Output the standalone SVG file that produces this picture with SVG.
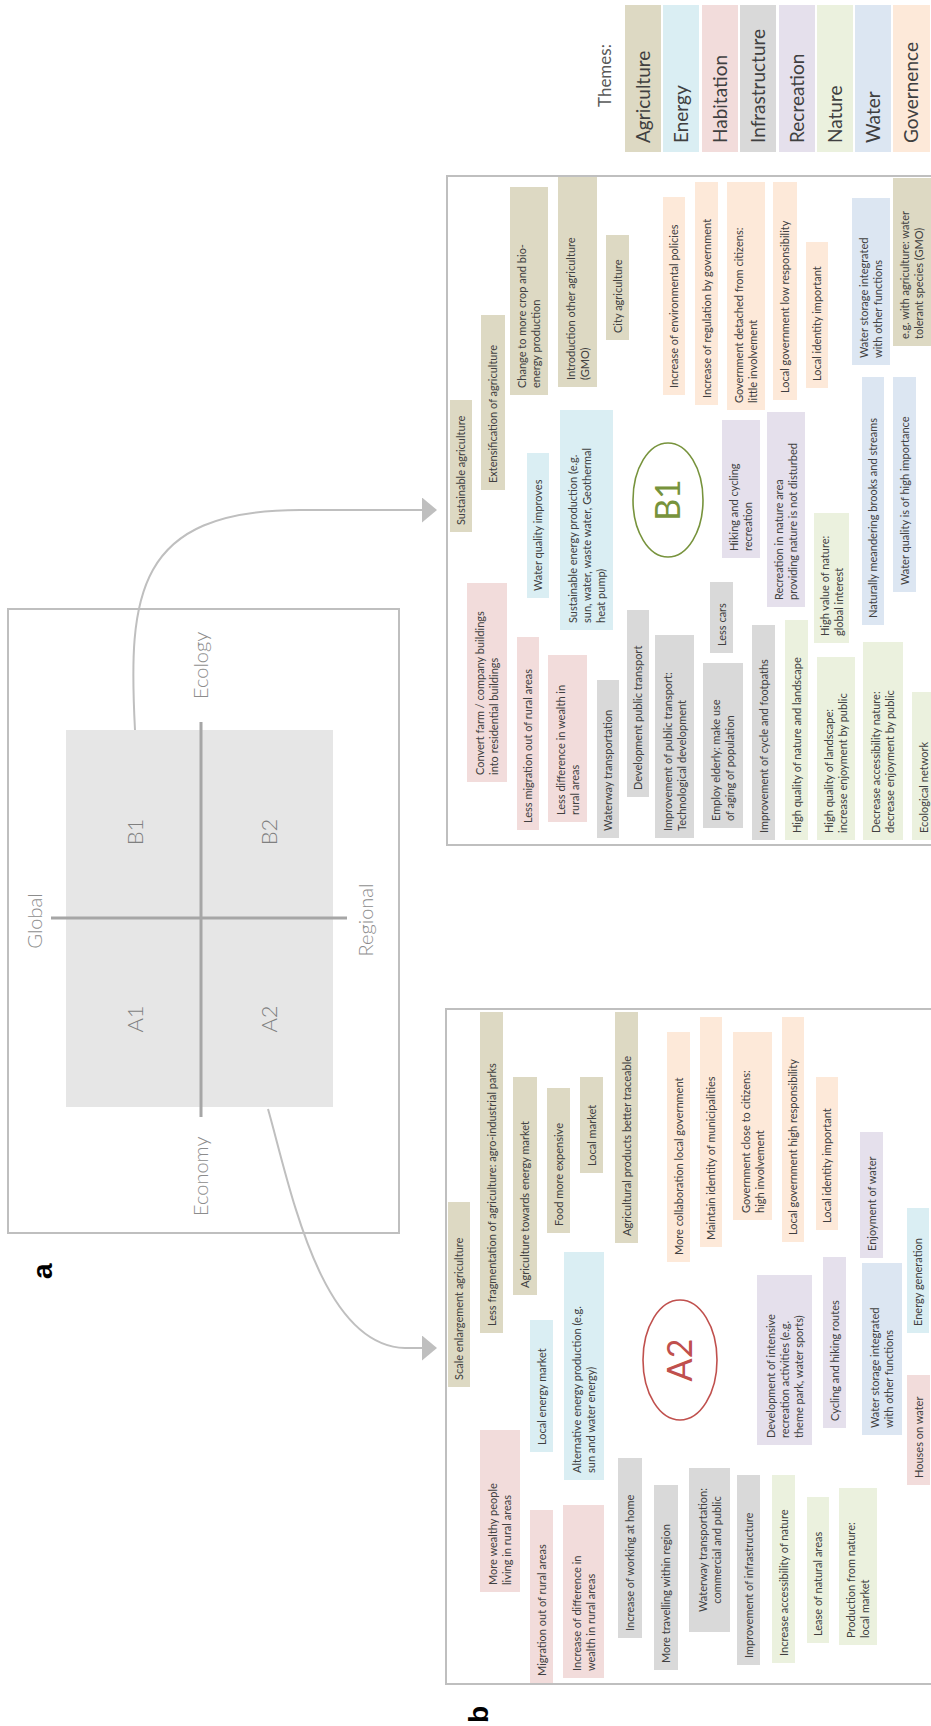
<svg xmlns="http://www.w3.org/2000/svg" width="931" height="1726" viewBox="0 0 931 1726">
<style>
.t{font-family:Lato,'Open Sans','Liberation Sans',sans-serif;font-size:11px;fill:#404040}
.lg{font-family:Lato,'Open Sans','Liberation Sans',sans-serif;font-size:19px;fill:#404040}
.ax{font-family:Lato,'Open Sans','Liberation Sans',sans-serif;font-weight:300;font-size:20px;fill:#8c8c8c}
.q{font-family:Lato,'Open Sans','Liberation Sans',sans-serif;font-weight:300;font-size:22px;fill:#7f7f7f;text-anchor:middle}
.pl{font-family:'Liberation Sans',Arial,sans-serif;font-weight:bold;font-size:28px;fill:#000}
.agr{fill:#ddd9c3}.ene{fill:#daeef3}.hab{fill:#f2dcdb}.inf{fill:#d9d9d9}.rec{fill:#e5e0ec}.nat{fill:#ebf1de}.wat{fill:#dce6f2}.gov{fill:#fde9d9}
.frame{fill:none;stroke:#bfbfbf;stroke-width:2}
.conn{fill:none;stroke:#bfbfbf;stroke-width:2}
</style>
<defs>
<marker id="ah" markerUnits="userSpaceOnUse" markerWidth="16" markerHeight="26" refX="0" refY="12.5" orient="auto">
<path d="M0,0 L15,12.5 L0,25 z" fill="#bfbfbf"/>
</marker>
</defs>
<rect x="0" y="0" width="931" height="1726" fill="#fff"/>
<g transform="translate(0,1726) rotate(-90)">

<!-- panel a -->
<g id="panel-a">
<text class="pl" x="447" y="52">a</text>
<rect class="frame" x="493" y="8" width="624" height="391"/>
<rect x="619" y="66" width="377" height="267" fill="#e6e6e6"/>
<line x1="609" y1="201" x2="1004" y2="201" stroke="#a6a6a6" stroke-width="3"/>
<line x1="808" y1="51" x2="808" y2="347" stroke="#a6a6a6" stroke-width="3"/>
<text class="ax" x="805" y="42" text-anchor="middle">Global</text>
<text class="ax" x="806" y="373" text-anchor="middle">Regional</text>
<text class="ax" x="1027" y="208">Ecology</text>
<text class="ax" x="510" y="208">Economy</text>
</g>
<g id="quad-a1"><text class="q" x="707" y="143">A1</text></g>
<g id="quad-b1"><text class="q" x="894" y="143">B1</text></g>
<g id="quad-a2"><text class="q" x="707" y="277">A2</text></g>
<g id="quad-b2"><text class="q" x="894" y="277">B2</text></g>

<!-- legend -->
<g id="legend">
<text x="1619" y="611" style="font-family:Lato,'Open Sans',sans-serif;font-size:17px;fill:#595959">Themes:</text>
<g id="leg-agriculture"><rect class="agr" x="1574" y="625" width="147" height="36"/><text class="lg" x="1583" y="650">Agriculture</text></g>
<g id="leg-energy"><rect class="ene" x="1574" y="663" width="147" height="36"/><text class="lg" x="1583" y="688">Energy</text></g>
<g id="leg-habitation"><rect class="hab" x="1574" y="702" width="147" height="36"/><text class="lg" x="1583" y="727">Habitation</text></g>
<g id="leg-infrastructure"><rect class="inf" x="1574" y="740" width="147" height="36"/><text class="lg" x="1583" y="765">Infrastructure</text></g>
<g id="leg-recreation"><rect class="rec" x="1574" y="779" width="147" height="36"/><text class="lg" x="1583" y="804">Recreation</text></g>
<g id="leg-nature"><rect class="nat" x="1574" y="817" width="147" height="36"/><text class="lg" x="1583" y="842">Nature</text></g>
<g id="leg-water"><rect class="wat" x="1574" y="855" width="147" height="36"/><text class="lg" x="1583" y="880">Water</text></g>
<g id="leg-governence"><rect class="gov" x="1574" y="893" width="147" height="37"/><text class="lg" x="1583" y="918">Governence</text></g>
</g>

<!-- panel b frames -->
<g id="panel-b">
<text class="pl" x="3" y="488">b</text>
<rect class="frame" x="42" y="446" width="675" height="520"/>
<rect class="frame" x="881" y="447" width="669" height="520"/>
</g>

<!-- connectors -->
<g id="connectors">
<path class="conn" d="M996,135 C1130,128 1216,135 1216,300 L1216,422" marker-end="url(#ah)"/>
<path class="conn" d="M617,268 C540,290 380,320 378,405 L378,422" marker-end="url(#ah)"/>
</g>

<!-- B1 scenario -->
<g id="b1-label"><ellipse cx="1226" cy="668" rx="57" ry="35" fill="none" stroke="#77933c" stroke-width="1.6"/><text x="1226" y="680" text-anchor="middle" style="font-family:Lato,'Open Sans',sans-serif;font-size:34px;fill:#77933c">B1</text></g>
<g id="b1-1"><rect class="agr" x="1194" y="450" width="132" height="22"/><text class="t" x="1201" y="465">Sustainable agriculture</text></g>
<g id="b1-2"><rect class="agr" x="1236" y="481" width="175" height="24"/><text class="t" x="1243" y="497">Extensification of agriculture</text></g>
<g id="b1-3"><rect class="agr" x="1331" y="510" width="208" height="38"/><text class="t" x="1338" y="526">Change to more crop and bio-</text><text class="t" x="1338" y="540">energy production</text></g>
<g id="b1-4"><rect class="agr" x="1339" y="558" width="210" height="39"/><text class="t" x="1346" y="574.5">Introduction other agriculture</text><text class="t" x="1346" y="588.5">(GMO)</text></g>
<g id="b1-5"><rect class="agr" x="1386" y="606" width="105" height="23"/><text class="t" x="1393" y="621.5">City agriculture</text></g>
<g id="b1-6"><rect class="gov" x="1331" y="663" width="198" height="22"/><text class="t" x="1338" y="678">Increase of environmental policies</text></g>
<g id="b1-7"><rect class="gov" x="1321" y="695" width="223" height="23"/><text class="t" x="1328" y="710.5">Increase of regulation by government</text></g>
<g id="b1-8"><rect class="gov" x="1316" y="727" width="228" height="38"/><text class="t" x="1323" y="743">Government detached from citizens:</text><text class="t" x="1323" y="757">little involvement</text></g>
<g id="b1-9"><rect class="gov" x="1326" y="773" width="218" height="24"/><text class="t" x="1333" y="789">Local government low responsibility</text></g>
<g id="b1-10"><rect class="gov" x="1338" y="806" width="146" height="22"/><text class="t" x="1345" y="821">Local identity important</text></g>
<g id="b1-11"><rect class="wat" x="1361" y="852" width="167" height="38"/><text class="t" x="1368" y="868">Water storage integrated</text><text class="t" x="1368" y="882">with other functions</text></g>
<g id="b1-12"><rect class="agr" x="1380" y="893" width="168" height="38"/><text class="t" x="1387" y="909">e.g. with agriculture: water</text><text class="t" x="1387" y="923">tolerant species (GMO)</text></g>
<g id="b1-13"><rect class="ene" x="1128" y="527" width="145" height="22"/><text class="t" x="1135" y="542">Water quality improves</text></g>
<g id="b1-14"><rect class="ene" x="1096" y="560" width="220" height="53"/><text class="t" x="1103" y="576.5">Sustainable energy production (e.g.</text><text class="t" x="1103" y="590.5">sun, water, waste water, Geothermal</text><text class="t" x="1103" y="604.5">heat pump)</text></g>
<g id="b1-15"><rect class="rec" x="1168" y="722" width="138" height="38"/><text class="t" x="1175" y="738">Hiking and cycling</text><text class="t" x="1175" y="752">recreation</text></g>
<g id="b1-16"><rect class="rec" x="1119" y="767" width="195" height="38"/><text class="t" x="1126" y="783">Recreation in nature area</text><text class="t" x="1126" y="797">providing nature is not disturbed</text></g>
<g id="b1-17"><rect class="wat" x="1101" y="862" width="248" height="22"/><text class="t" x="1108" y="877">Naturally meandering brooks and streams</text></g>
<g id="b1-18"><rect class="wat" x="1134" y="893" width="215" height="23"/><text class="t" x="1141" y="908.5">Water quality is of high importance</text></g>
<g id="b1-19"><rect class="hab" x="944" y="467" width="199" height="40"/><text class="t" x="951" y="484">Convert farm / company buildings</text><text class="t" x="951" y="498">into residential buildings</text></g>
<g id="b1-20"><rect class="hab" x="896" y="517" width="193" height="22"/><text class="t" x="903" y="532">Less migration out of rural areas</text></g>
<g id="b1-21"><rect class="hab" x="904" y="548" width="167" height="39"/><text class="t" x="911" y="564.5">Less difference in wealth in</text><text class="t" x="911" y="578.5">rural areas</text></g>
<g id="b1-22"><rect class="inf" x="888" y="597" width="158" height="22"/><text class="t" x="895" y="612">Waterway transportation</text></g>
<g id="b1-23"><rect class="inf" x="929" y="627" width="187" height="22"/><text class="t" x="936" y="642">Development public transport</text></g>
<g id="b1-24"><rect class="inf" x="888" y="655" width="203" height="39"/><text class="t" x="895" y="671.5">Improvement of public transport:</text><text class="t" x="895" y="685.5">Technological development</text></g>
<g id="b1-25"><rect class="inf" x="1073" y="710" width="71" height="23"/><text class="t" x="1080" y="725.5">Less cars</text></g>
<g id="b1-26"><rect class="inf" x="898" y="703" width="165" height="40"/><text class="t" x="905" y="720">Employ elderly: make use</text><text class="t" x="905" y="734">of aging of population</text></g>
<g id="b1-27"><rect class="inf" x="886" y="752" width="215" height="23"/><text class="t" x="893" y="767.5">Improvement of cycle and footpaths</text></g>
<g id="b1-28"><rect class="nat" x="886" y="785" width="220" height="23"/><text class="t" x="893" y="800.5">High quality of nature and landscape</text></g>
<g id="b1-29"><rect class="nat" x="1083" y="814" width="130" height="35"/><text class="t" x="1090" y="828.5">High value of nature:</text><text class="t" x="1090" y="842.5">global interest</text></g>
<g id="b1-30"><rect class="nat" x="886" y="817" width="183" height="38"/><text class="t" x="893" y="833">High quality of landscape:</text><text class="t" x="893" y="847">increase enjoyment by public</text></g>
<g id="b1-31"><rect class="nat" x="886" y="863" width="198" height="40"/><text class="t" x="893" y="880">Decrease accessibility nature:</text><text class="t" x="893" y="894">decrease enjoyment by public</text></g>
<g id="b1-32"><rect class="nat" x="886" y="912" width="148" height="23"/><text class="t" x="893" y="927.5">Ecological network</text></g>

<!-- A2 scenario -->
<g id="a2-label"><ellipse cx="366" cy="680" rx="60" ry="37" fill="none" stroke="#c0504d" stroke-width="1.6"/><text x="366" y="692" text-anchor="middle" style="font-family:Lato,'Open Sans',sans-serif;font-size:34px;fill:#c0504d">A2</text></g>
<g id="a2-1"><rect class="agr" x="339" y="448" width="185" height="22"/><text class="t" x="346" y="463">Scale enlargement agriculture</text></g>
<g id="a2-2"><rect class="agr" x="393" y="480" width="321" height="23"/><text class="t" x="400" y="495.5">Less fragmentation of agriculture: agro-industrial parks</text></g>
<g id="a2-3"><rect class="agr" x="431" y="513" width="218" height="24"/><text class="t" x="438" y="529">Agriculture towards energy market</text></g>
<g id="a2-4"><rect class="agr" x="493" y="547" width="145" height="23"/><text class="t" x="500" y="562.5">Food more expensive</text></g>
<g id="a2-5"><rect class="agr" x="553" y="580" width="96" height="23"/><text class="t" x="560" y="595.5">Local market</text></g>
<g id="a2-6"><rect class="agr" x="483" y="615" width="231" height="23"/><text class="t" x="490" y="630.5">Agricultural products better traceable</text></g>
<g id="a2-7"><rect class="gov" x="464" y="667" width="230" height="23"/><text class="t" x="471" y="682.5">More collaboration local government</text></g>
<g id="a2-8"><rect class="gov" x="479" y="700" width="230" height="22"/><text class="t" x="486" y="715">Maintain identity of municipalities</text></g>
<g id="a2-9"><rect class="gov" x="506" y="733" width="188" height="39"/><text class="t" x="513" y="749.5">Government close to citizens:</text><text class="t" x="513" y="763.5">high involvement</text></g>
<g id="a2-10"><rect class="gov" x="484" y="782" width="225" height="22"/><text class="t" x="491" y="797">Local government high responsibility</text></g>
<g id="a2-11"><rect class="gov" x="496" y="816" width="153" height="22"/><text class="t" x="503" y="831">Local identity important</text></g>
<g id="a2-12"><rect class="rec" x="468" y="860" width="126" height="23"/><text class="t" x="475" y="875.5">Enjoyment of water</text></g>
<g id="a2-13"><rect class="ene" x="393" y="907" width="125" height="22"/><text class="t" x="400" y="922">Energy generation</text></g>
<g id="a2-14"><rect class="ene" x="274" y="530" width="132" height="23"/><text class="t" x="281" y="545.5">Local energy market</text></g>
<g id="a2-15"><rect class="ene" x="246" y="564" width="228" height="40"/><text class="t" x="253" y="581">Alternative energy production (e.g.</text><text class="t" x="253" y="595">sun and water energy)</text></g>
<g id="a2-16"><rect class="rec" x="281" y="757" width="170" height="55"/><text class="t" x="288" y="774.5">Development of intensive</text><text class="t" x="288" y="788.5">recreation activities (e.g.</text><text class="t" x="288" y="802.5">theme park, water sports)</text></g>
<g id="a2-17"><rect class="rec" x="298" y="823" width="171" height="23"/><text class="t" x="305" y="838.5">Cycling and hiking routes</text></g>
<g id="a2-18"><rect class="wat" x="291" y="862" width="172" height="40"/><text class="t" x="298" y="879">Water storage integrated</text><text class="t" x="298" y="893">with other functions</text></g>
<g id="a2-19"><rect class="hab" x="241" y="907" width="110" height="23"/><text class="t" x="248" y="922.5">Houses on water</text></g>
<g id="a2-20"><rect class="hab" x="134" y="480" width="162" height="40"/><text class="t" x="141" y="497">More wealthy people</text><text class="t" x="141" y="511">living in rural areas</text></g>
<g id="a2-21"><rect class="hab" x="43" y="530" width="173" height="23"/><text class="t" x="50" y="545.5">Migration out of rural areas</text></g>
<g id="a2-22"><rect class="hab" x="48" y="563" width="173" height="41"/><text class="t" x="55" y="580.5">Increase of difference in</text><text class="t" x="55" y="594.5">wealth in rural areas</text></g>
<g id="a2-23"><rect class="inf" x="88" y="618" width="180" height="24"/><text class="t" x="95" y="634">Increase of working at home</text></g>
<g id="a2-24"><rect class="inf" x="56" y="654" width="185" height="24"/><text class="t" x="63" y="670">More travelling within region</text></g>
<g id="a2-25"><rect class="inf" x="94" y="689" width="164" height="41"/><text class="t" x="176" y="706.5" text-anchor="middle">Waterway transportation:</text><text class="t" x="176" y="720.5" text-anchor="middle">commercial and public</text></g>
<g id="a2-26"><rect class="inf" x="61" y="737" width="190" height="23"/><text class="t" x="68" y="752.5">Improvement of infrastructure</text></g>
<g id="a2-27"><rect class="nat" x="63" y="772" width="188" height="23"/><text class="t" x="70" y="787.5">Increase accessibility of nature</text></g>
<g id="a2-28"><rect class="nat" x="83" y="807" width="146" height="22"/><text class="t" x="90" y="822">Lease of natural areas</text></g>
<g id="a2-29"><rect class="nat" x="81" y="839" width="157" height="38"/><text class="t" x="88" y="855">Production from nature:</text><text class="t" x="88" y="869">local market</text></g>

</g>
</svg>
